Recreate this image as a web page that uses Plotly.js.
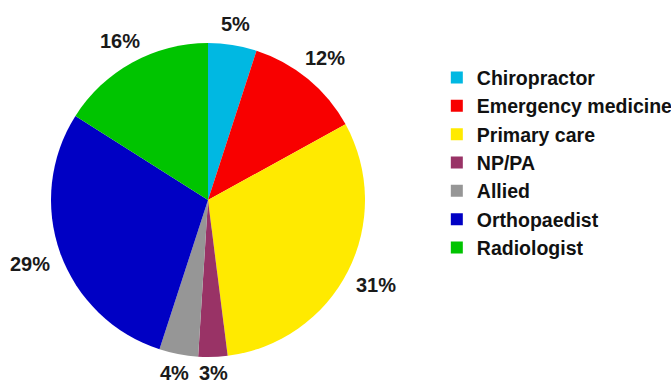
<!DOCTYPE html>
<html>
<head>
<meta charset="utf-8">
<script src="https://cdn.plot.ly/plotly-3.0.1.min.js"></script>
<style>html,body{margin:0;padding:0;background:#fff;}#chart{width:671px;height:386px;}</style>
</head>
<body>
<div id="chart"></div>
<script>
const categories = ["Chiropractor", "Emergency medicine", "Primary care", "NP/PA", "Allied", "Orthopaedist", "Radiologist"];
const shares = [5, 12, 31, 3, 4, 29, 16];
const sliceColors = ["#00B8E2", "#F80000", "#FFEA00", "#993366", "#969696", "#0000C4", "#00C400"];

const W = 671, H = 386;
const cx = 208, cy = 200, r = 157;
const labelFontSize = 20;
const labelGap = 13;

const trace = {
  type: "pie",
  labels: categories,
  values: shares,
  sort: false,
  direction: "clockwise",
  rotation: 0,
  marker: { colors: sliceColors, line: { width: 0 } },
  textinfo: "none",
  hoverinfo: "label+percent",
  domain: { x: [(cx - r) / W, (cx + r) / W], y: [(H - cy - r) / H, (H - cy + r) / H] },
  automargin: false
};

// percentage labels placed just outside each slice's mid-angle, derived from the shares
const total = shares.reduce((a, b) => a + b, 0);
let cum = 0;
const annotations = shares.map(v => {
  const mid = (cum + v / 2) / total * 2 * Math.PI;
  cum += v;
  const txt = v + "%";
  const hw = (String(v).length * 0.556 + 0.889) * labelFontSize / 2;
  const hh = 7.5;
  const s = Math.sin(mid), c = Math.cos(mid);
  const R = r + labelGap + Math.sqrt((hw * s) ** 2 + (hh * c) ** 2);
  const px = cx + R * s;
  const py = Math.min(cy - R * c, H - 13);
  return {
    xref: "paper", yref: "paper",
    x: px / W, y: 1 - py / H,
    xanchor: "center", yanchor: "middle",
    text: txt,
    showarrow: false,
    font: { family: "Liberation Sans, Arial, sans-serif", size: labelFontSize, color: "#1a1a1a", weight: "bold" }
  };
});

const layout = {
  width: W, height: H,
  margin: { l: 0, r: 0, t: 0, b: 0, autoexpand: false },
  paper_bgcolor: "#ffffff",
  showlegend: true,
  annotations: annotations,
  legend: {
    x: 0.651, xanchor: "left", y: 0.849, yanchor: "top",
    font: { family: "Liberation Sans, Arial, sans-serif", size: 19.5, color: "#111111", weight: "bold" },
    bgcolor: "rgba(0,0,0,0)",
    traceorder: "normal"
  }
};

Plotly.newPlot("chart", [trace], layout, { staticPlot: true });
</script>
</body>
</html>
